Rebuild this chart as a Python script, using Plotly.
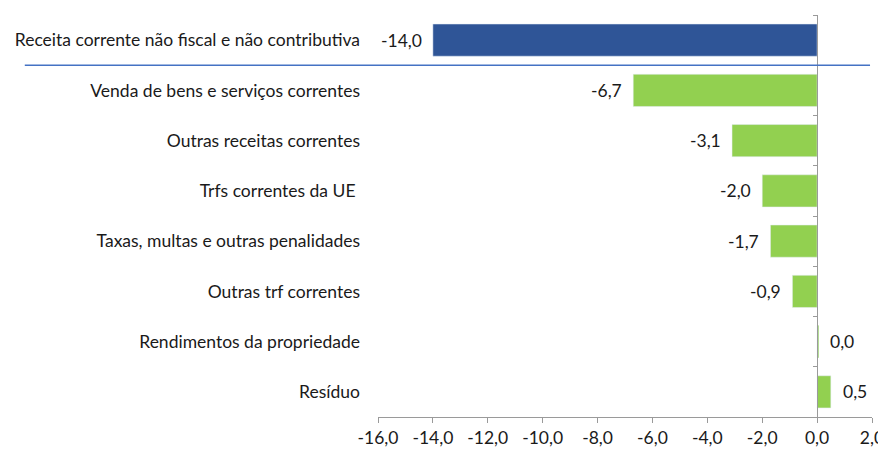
import plotly.graph_objects as go

categories = [
    "Receita corrente não fiscal e não contributiva",
    "Venda de bens e serviços correntes",
    "Outras receitas correntes",
    "Trfs correntes da UE ",
    "Taxas, multas e outras penalidades",
    "Outras trf correntes",
    "Rendimentos da propriedade",
    "Resíduo",
]
values = [-14.0, -6.7, -3.1, -2.0, -1.7, -0.9, 0.045, 0.5]
value_labels = ["-14,0", "-6,7", "-3,1", "-2,0", "-1,7", "-0,9", "0,0", "0,5"]
bar_colors = ["#2F5597"] + ["#92D050"] * 7
x_ticks = [-16, -14, -12, -10, -8, -6, -4, -2, 0, 2]
x_ticktext = ["-16,0", "-14,0", "-12,0", "-10,0", "-8,0", "-6,0", "-4,0", "-2,0", "0,0", "2,0"]

xmin, xmax = -16, 2
FONT = "Lato"
FS = 17.5
TXT = "#1a1a1a"
GRAY = "#9a9a9a"

fig = go.Figure()
fig.add_trace(go.Bar(
    y=categories, x=values, orientation="h",
    marker=dict(color=bar_colors, line=dict(width=0)),
    hoverinfo="skip", showlegend=False,
))
# invisible trace to carry the zero-position category axis
fig.add_trace(go.Bar(
    y=categories, x=values, orientation="h", yaxis="y2",
    marker=dict(color="rgba(0,0,0,0)"), hoverinfo="skip", showlegend=False,
))

annotations = []
for c, v, t in zip(categories, values, value_labels):
    neg = v < 0
    annotations.append(dict(
        x=v, y=c, xref="x", yref="y", text=t, showarrow=False,
        xanchor="right" if neg else "left", xshift=-9 if neg else 10,
        font=dict(family=FONT, size=FS, color=TXT),
    ))

zero_pos = (0 - xmin) / (xmax - xmin)

# page body has an 8px margin, so offsets are reduced by 8
fig.update_layout(
    width=886, height=450,
    margin=dict(l=370, r=22, t=7, b=41, autoexpand=False),
    paper_bgcolor="white", plot_bgcolor="white",
    bargap=0.36,
    font=dict(family=FONT, size=FS, color=TXT),
    xaxis=dict(
        range=[xmin, xmax], tickvals=x_ticks, ticktext=x_ticktext,
        showgrid=False, zeroline=False, showline=True, linecolor=GRAY, linewidth=1,
        ticks="outside", ticklen=5, tickcolor=GRAY, automargin=False,
        tickfont=dict(family=FONT, size=FS, color=TXT), fixedrange=True,
    ),
    yaxis=dict(
        type="category", categoryarray=categories, autorange="reversed",
        showgrid=False, zeroline=False, showline=False, ticks="",
        ticklabelstandoff=17, automargin=False,
        tickfont=dict(family=FONT, size=FS, color=TXT),
    ),
    yaxis2=dict(
        type="category", categoryarray=categories, autorange="reversed",
        overlaying="y", anchor="free", position=zero_pos, side="left",
        showgrid=False, zeroline=False, showline=True, linecolor=GRAY, linewidth=1,
        ticks="outside", tickson="boundaries", ticklen=4, tickcolor=GRAY,
        showticklabels=False, automargin=False,
    ),
    annotations=annotations,
    shapes=[dict(
        type="line", xref="paper", yref="y", x0=-0.715, x1=0.996, y0=0.5, y1=0.5,
        line=dict(color="#4472C4", width=1.5),
    )],
)

fig.write_html("out.html")
